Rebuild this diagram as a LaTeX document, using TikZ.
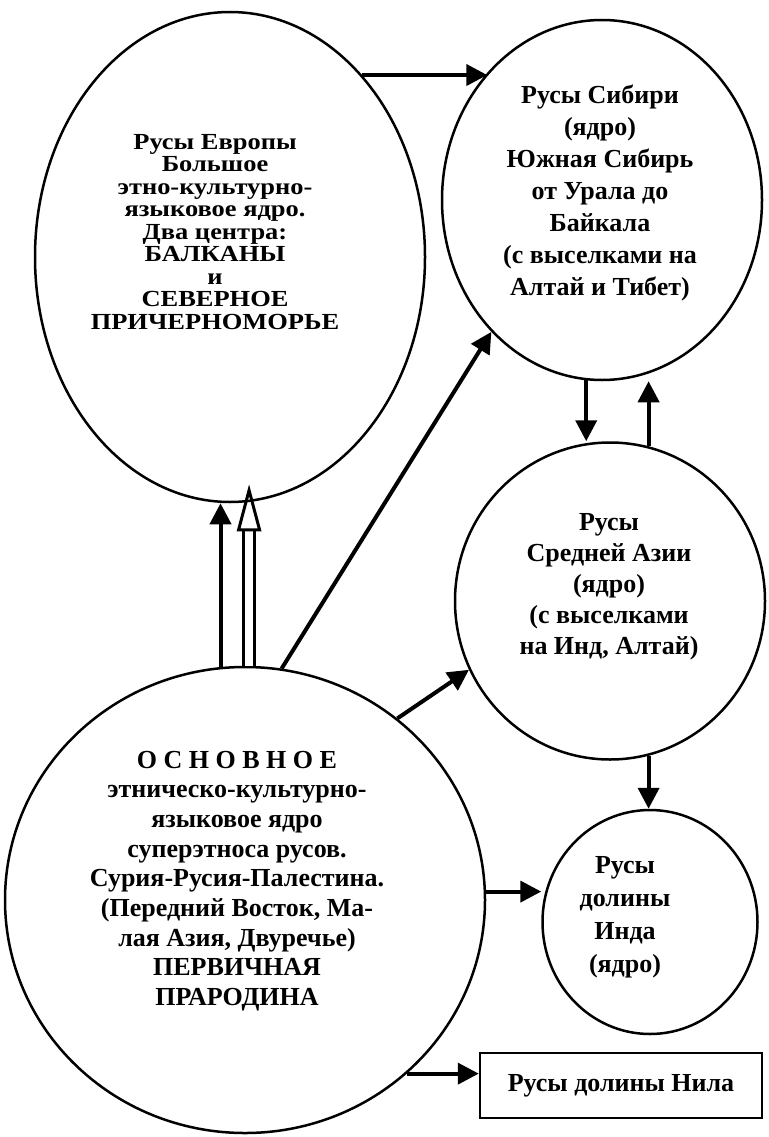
\documentclass[tikz,border=0pt]{standalone}
\usepackage{fontspec}
\setmainfont{Liberation Serif}
\newfontfamily\eurfont[FakeStretch=1.15]{Liberation Serif}
\usetikzlibrary{shapes.geometric, arrows.meta, calc}
\tikzset{
  region/.style={ellipse, draw, line width=2.5pt, inner sep=0pt},
  caption/.style={align=center, inner sep=0pt, font=\bfseries\fontsize{26}{#1}\selectfont},
  caption/.default=32,
  arrow/.style={-{Triangle[length=21pt, width=21pt]}, line width=4pt},
  hollow/.style={double, double distance=8pt, line width=3pt, -{Triangle[open, length=47pt, width=24pt, line width=3pt]}},
}
\begin{document}
\begin{tikzpicture}[x=1pt, y=-1pt]
  \useasboundingbox (0,0) rectangle (768,1137);

  % Regions
  \node[region, minimum width=390pt, minimum height=490pt] (eur) at (230,257) {};
  \node[region, minimum width=320pt, minimum height=360pt] (sib) at (602,200) {};
  \node[region, minimum width=310pt, minimum height=317pt] (asia) at (610,601) {};
  \node[region, minimum width=215pt, minimum height=224pt] (indus) at (650,922) {};
  \node[region, minimum width=480pt, minimum height=466pt] (main) at (245,900) {};
  \node[draw, line width=2.5pt, minimum width=282pt, minimum height=65pt, inner sep=0pt,
        font=\bfseries\fontsize{26}{32}\selectfont] (nile) at (621,1085.5) {Русы долины Нила};

  % Texts
  \node[align=center, inner sep=0pt, font=\eurfont\bfseries\fontsize{23}{22.5}\selectfont] (eurtxt) at (215,232)
    {Русы Европы\\Большое\\этно-культурно-\\языковое ядро.\\Два центра:\\БАЛКАНЫ\\и\\СЕВЕРНОЕ\\ПРИЧЕРНОМОРЬЕ};
  \node[caption] (sibtxt) at (600,193) {Русы Сибири\\(ядро)\\Южная Сибирь\\от Урала до\\Байкала\\(с выселками на\\Алтай и Тибет)};
  \node[caption=31] (asiatxt) at (609,587) {Русы\\Средней Азии\\(ядро)\\(с выселками\\на Инд, Алтай)};
  \node[caption=33] (industxt) at (625,917) {Русы\\долины\\Инда\\(ядро)};
  \node[caption=29.7] (maintxt) at (237,881) {О С Н О В Н О Е\\этническо-культурно-\\языковое ядро\\суперэтноса русов.\\Сурия-Русия-Палестина.\\(Передний Восток, Ма-\\лая Азия, Двуречье)\\ПЕРВИЧНАЯ\\ПРАРОДИНА};

  % Connections
  \draw[arrow] (eur.54) -- (eur.54 -| sib.132);
  \draw[arrow] (main.81) -- (sib.230);
  \draw[arrow] (main.96) -- (main.96 |- eur.south);
  \draw[hollow] (main.89) -- ([yshift=19pt]main.89 |- eur.south);
  \draw[arrow] (sib.265) -- (sib.265 |- asia.north);
  \draw[arrow] (asia.76) -- (asia.76 |- sib.south);
  \draw[arrow] (main.50) -- (asia.206);
  \draw[arrow] (asia.-76) -- (asia.-76 |- indus.north);
  \draw[arrow] (main.2) -- (main.2 -| indus.west);
  \draw[arrow] (main.-47) -- (main.-47 -| nile.west);
\end{tikzpicture}
\end{document}
